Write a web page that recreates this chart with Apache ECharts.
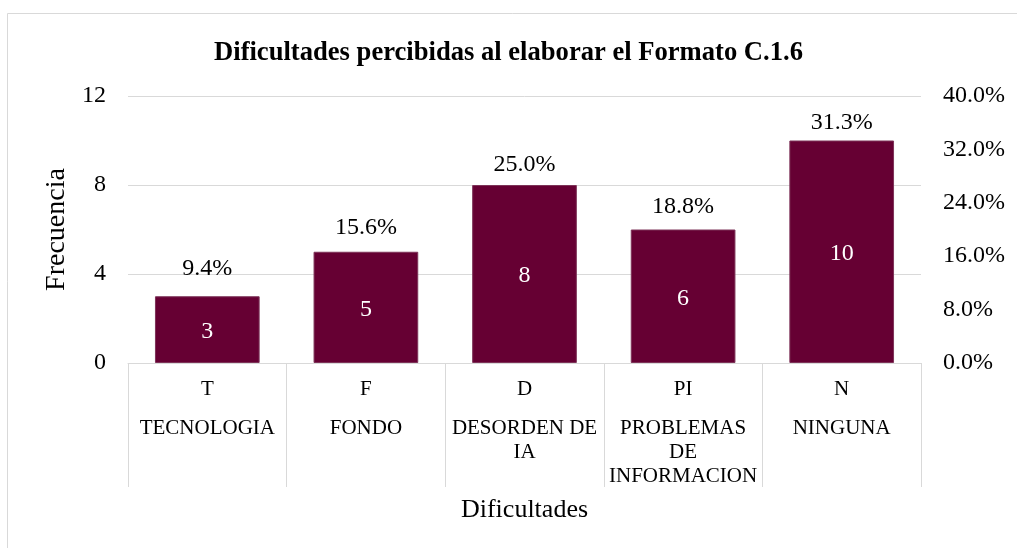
<!DOCTYPE html>
<html>
<head>
<meta charset="utf-8">
<script src="https://cdn.jsdelivr.net/npm/echarts@6/dist/echarts.min.js"></script>
<style>
  html, body { margin: 0; padding: 0; background: #fff; }
  #chart { width: 1017px; height: 548px; }
</style>
</head>
<body>
<div id="chart"></div>
<script>
const codes = ["T", "F", "D", "PI", "N"];
const names = ["TECNOLOGIA", "FONDO", "DESORDEN DE IA", "PROBLEMAS DE INFORMACION", "NINGUNA"];
const counts = [3, 5, 8, 6, 10];
const percents = [9.375, 15.625, 25, 18.75, 31.25];
const leftTicks = { min: 0, max: 12, interval: 4 };
const rightTicks = { min: 0, max: 40, interval: 8 };

const font = "'Liberation Serif', 'Times New Roman', serif";
const gridColor = "#d9d9d9";

// greedy word wrap, like the cell wrapping in the original
function wrap(text, maxChars) {
  const words = text.split(" ");
  const lines = [];
  let cur = "";
  words.forEach(w => {
    if (cur && (cur + " " + w).length > maxChars) {
      lines.push(cur);
      cur = w;
    } else {
      cur = cur ? cur + " " + w : w;
    }
  });
  if (cur) lines.push(cur);
  return lines.join("\n");
}

const chart = echarts.init(document.getElementById("chart"), null, { renderer: "canvas" });

chart.setOption({
  animation: false,
  backgroundColor: "#ffffff",
  textStyle: { fontFamily: font, color: "#000" },
  graphic: [{
    type: "rect",
    shape: { x: 7.5, y: 13.5, width: 1100, height: 600 },
    style: { fill: null, stroke: gridColor, lineWidth: 1 },
    silent: true
  }],
  title: {
    text: "Dificultades percibidas al elaborar el Formato C.1.6",
    left: "center",
    top: 35,
    textStyle: { fontFamily: font, fontSize: 26.6, fontWeight: "bold", color: "#000" }
  },
  grid: { left: 128, right: 96, top: 96, bottom: 185 },
  xAxis: {
    type: "category",
    data: codes,
    name: "Dificultades",
    nameLocation: "middle",
    nameGap: 134,
    nameTextStyle: { fontFamily: font, fontSize: 26, color: "#000" },
    axisLine: { show: true, lineStyle: { color: gridColor, width: 1 } },
    axisTick: { show: true, length: 124, interval: 0, lineStyle: { color: gridColor, width: 1 } },
    axisLabel: {
      interval: 0,
      margin: 14,
      formatter: (v, i) => "{c|" + v + "}\n{g| }\n{n|" + wrap(names[i], 11) + "}",
      rich: {
        c: { fontFamily: font, fontSize: 21, lineHeight: 24, color: "#000" },
        g: { fontSize: 10, lineHeight: 15 },
        n: { fontFamily: font, fontSize: 21, lineHeight: 24, color: "#000", align: "center" }
      }
    }
  },
  yAxis: [{
    type: "value",
    min: leftTicks.min,
    max: leftTicks.max,
    interval: leftTicks.interval,
    name: "Frecuencia",
    nameLocation: "middle",
    nameRotate: 90,
    nameGap: 56,
    nameTextStyle: { fontFamily: font, fontSize: 28, color: "#000" },
    axisLine: { show: false },
    axisTick: { show: false },
    axisLabel: { margin: 22, fontFamily: font, fontSize: 24, color: "#000" },
    splitLine: { show: true, lineStyle: { color: gridColor, width: 1 } }
  }, {
    type: "value",
    position: "right",
    min: rightTicks.min,
    max: rightTicks.max,
    interval: rightTicks.interval,
    axisLine: { show: false },
    axisTick: { show: false },
    splitLine: { show: false },
    axisLabel: {
      margin: 22,
      fontFamily: font,
      fontSize: 24,
      color: "#000",
      formatter: v => v.toFixed(1) + "%"
    }
  }],
  series: [{
    type: "bar",
    data: counts,
    barWidth: "66%",
    itemStyle: { color: "#660033", borderColor: "#7d3358", borderWidth: 1 },
    label: {
      show: true,
      position: "inside",
      offset: [0, 2],
      fontFamily: font,
      fontSize: 24,
      color: "#ffffff"
    }
  }, {
    // hidden percentage series on the right axis, only its labels show
    type: "line",
    yAxisIndex: 1,
    data: percents,
    symbol: "circle",
    symbolSize: 1,
    showSymbol: true,
    itemStyle: { color: "rgba(0,0,0,0)" },
    lineStyle: { color: "rgba(0,0,0,0)", width: 0 },
    label: {
      show: true,
      position: "top",
      distance: 19,
      fontFamily: font,
      fontSize: 24,
      color: "#000",
      formatter: p => p.value.toFixed(1) + "%"
    }
  }]
});
</script>
</body>
</html>
